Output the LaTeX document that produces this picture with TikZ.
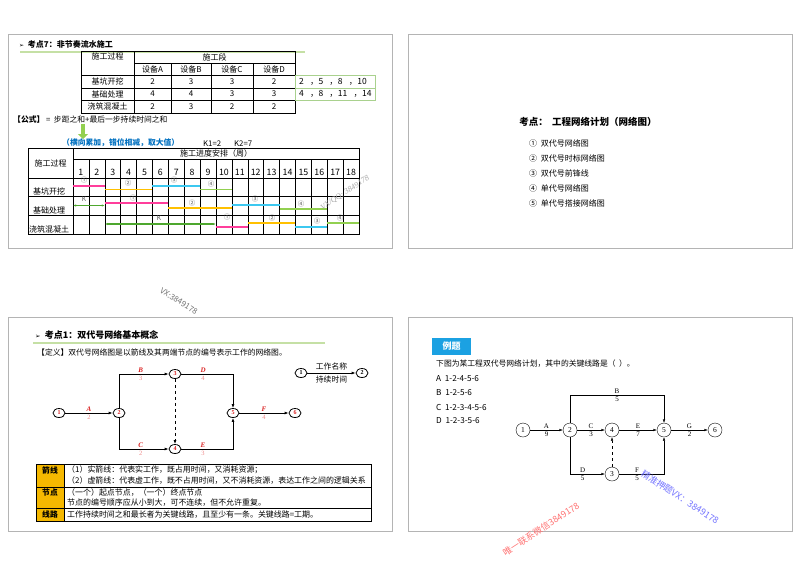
\documentclass[tikz,border=0pt]{standalone}
\usepackage{fontspec}
\setmainfont{Noto Sans CJK SC}
\newfontfamily\symfont{DejaVu Sans}
\newfontfamily\serfont{Liberation Serif}
\usetikzlibrary{arrows.meta,positioning,shapes.geometric}
\definecolor{framegray}{HTML}{B4B4B4}
\definecolor{titlegreen}{HTML}{C5E0A5}
\definecolor{boxgreen}{HTML}{A9D18E}
\definecolor{barpink}{HTML}{FF3D9B}
\definecolor{barorange}{HTML}{FFC000}
\definecolor{barcyan}{HTML}{3CC8F0}
\definecolor{bargreen}{HTML}{92D050}
\definecolor{kgreen}{HTML}{4EA72E}
\definecolor{linkblue}{HTML}{0070C0}
\definecolor{labelgold}{HTML}{F5B800}
\definecolor{examblue}{HTML}{1BA1E2}
\definecolor{netred}{HTML}{D92020}
\definecolor{durred}{HTML}{EE8A8A}
\newcommand\fs[1]{\fontsize{#1}{#1}\selectfont}
\newcommand\ganttbar[4]{\draw[line width=1.6pt, #4] (73+#2*15.89,#1) -- (73+#3*15.89,#1);}
\newcommand\gap{\enspace\ }
\begin{document}
\begin{tikzpicture}[x=1pt, y=-1pt, line cap=butt, >=Latex,
    slide/.style={draw=framegray, line width=1pt},
    cell/.style={font=\fs{8}, inner sep=1pt},
    lefttext/.style={font=\fs{7.8}, anchor=west, inner sep=0pt},
    tag/.style={font=\fs{6.5}, text=black!65, inner sep=0pt},
    rednode/.style={draw, thick, ellipse, minimum width=12pt, minimum height=9pt, inner sep=0pt, font=\serfont\bfseries\fs{6}, text=netred},
    exnode/.style={draw, thin, circle, minimum size=14pt, inner sep=0pt, font=\serfont\fs{7.5}},
    actname/.style={font=\serfont\bfseries\itshape\fs{7}, text=netred, inner sep=1.5pt},
    actdur/.style={font=\serfont\fs{6.5}, text=durred, inner sep=1.5pt},
    exlab/.style={font=\serfont\fs{7}, inner sep=1.5pt},
    watermark/.style={font=\fs{8}, inner sep=0pt}]
  \useasboundingbox (0,0) rectangle (800,566);

  % Four slide frames
  \draw[slide] (8,34) rectangle (392,248);
  \draw[slide] (408,34) rectangle (792,248);
  \draw[slide] (8,317) rectangle (392,531);
  \draw[slide] (408,317) rectangle (792,531);

  % ---------- Slide 1: non-rhythmic flow ----------
  \node[lefttext, font=\fs{8}\bfseries] (t1) at (19,44) {{\symfont\fs{6}➢}\ \ 考点7：非节奏流水施工};
  \draw[titlegreen, line width=2pt] (20,51.5) -- (305,51.5);

  % Table of durations
  \draw[line width=.6pt] (81,51) rectangle (295,113);
  \draw (134,51) -- (134,113);
  \draw (134,63) -- (295,63);
  \foreach \x in {171,211,253} \draw (\x,63) -- (\x,113);
  \foreach \y in {75,88,100} \draw (81,\y) -- (295,\y);
  \node[cell] (hproc) at (107.5,56.5) {施工过程};
  \node[cell] (hseg) at (214.5,57) {施工段};
  \foreach \x/\n in {152.5/A,191/B,232/C,274/D}
    \node[cell] (eq\n) at (\x,69) {设备\n};
  \foreach \y/\nm/\a/\b/\c/\d [count=\r] in {81.5/基坑开挖/2/3/3/2, 94/基础处理/4/4/3/3, 106.5/浇筑混凝土/2/3/2/2}{
    \node[cell] (row\r) at (107.5,\y) {\nm};
    \node[cell] at (152.5,\y) {\a};
    \node[cell] at (191,\y) {\b};
    \node[cell] at (232,\y) {\c};
    \node[cell] at (274,\y) {\d};
  }
  % Accumulated sums
  \draw[boxgreen, thin] (295,75) rectangle (375,88);
  \draw[boxgreen, thin] (295,88) rectangle (375,100);
  \node[lefttext, font=\fs{8.5}] (sum1) at (299,81.5) {2\gap，5\gap，8\gap，10};
  \node[lefttext, font=\fs{8.5}] (sum2) at (299,94) {4\gap，8\gap，11\gap，14};

  % Formula
  \node[lefttext] (formula) at (13,120) {\textbf{【公式】} =\ \ 步距之和+最后一步持续时间之和};
  \draw[-{Triangle[width=10pt,length=5pt]}, line width=4.5pt, bargreen] (83,124) -- (83,139);
  \node[lefttext, font=\fs{7.8}\bfseries, text=linkblue] (rule) at (62,143.5) {（\underline{横向累加，错位相减，取大值}）};
  \node[lefttext] (k1) at (203,143.5) {K1=2};
  \node[lefttext] (k2) at (234,143.5) {K2=7};

  % Gantt chart grid
  \draw[line width=.6pt] (28,148) rectangle (359,234);
  \draw (73,148) -- (73,234);
  \draw (73,159) -- (359,159);
  \foreach \i in {1,...,17} \draw (73+\i*15.89,159) -- (73+\i*15.89,234);
  \foreach \y in {178,196,215} \draw (28,\y) -- (359,\y);
  \node[cell, font=\fs{8}] (gsched) at (216,153.5) {施工进度安排（周）};
  \node[cell, font=\fs{8}] (gproc) at (50.5,163) {施工过程};
  \foreach \i in {1,...,18} \node[cell, font=\fs{8.8}] at (73+\i*15.89-7.95,172) {\i};
  \node[cell, font=\fs{8}] (g1) at (49,191) {基坑开挖};
  \node[cell, font=\fs{8}] (g2) at (49,210) {基础处理};
  \node[cell, font=\fs{8}] (g3) at (49,229) {浇筑混凝土};

  % Row 1 bars
  \ganttbar{186}{0}{2}{barpink}
  \ganttbar{189.5}{2}{5}{barorange}
  \ganttbar{186}{5}{8}{barcyan}
  \ganttbar{189.5}{8}{10}{bargreen}
  \node[tag] at (84,180.5) {①};
  \node[tag] at (128,183.5) {②};
  \node[tag] at (174,180.5) {③};
  \node[tag] at (211,184) {④};
  % Row 2 bars
  \draw[{Latex[length=3pt]}-{Latex[length=3pt]}, line width=1.6pt, kgreen] (73,205.5) -- (104.8,205.5);
  \ganttbar{203}{2}{6}{barpink}
  \ganttbar{208}{6}{10}{barorange}
  \ganttbar{205}{10}{13}{barcyan}
  \ganttbar{209}{13}{16}{bargreen}
  \node[tag] at (84,199) {K};
  \node[tag] at (133,198) {①};
  \node[tag] at (192,203) {②};
  \node[tag] at (255,199.5) {③};
  \node[tag] at (301,204) {④};
  % Row 3 bars
  \draw[{Latex[length=3pt]}-{Latex[length=3pt]}, line width=1.6pt, kgreen] (104.8,224) -- (216,224);
  \ganttbar{227}{9}{11}{barpink}
  \ganttbar{223}{11}{14}{barorange}
  \ganttbar{227}{14}{16}{barcyan}
  \ganttbar{223}{16}{18}{bargreen}
  \node[tag] at (159,218) {K};
  \node[tag] at (227,217.5) {①};
  \node[tag] at (272,218) {②};
  \node[tag] at (317,221) {③};
  \node[tag] at (340,218) {④};

  % ---------- Slide 2: outline ----------
  \node[font=\fs{9.5}\bfseries] (t2) at (588,122) {考点：\ \ 工程网络计划（网络图）};
  \foreach \txt [count=\k] in {双代号网络图,双代号时标网络图,双代号前锋线,单代号网络图,单代号搭接网络图}
    \node[lefttext, font=\fs{8}] (item\k) at (529,128+\k*15) {\ifcase\k\or ①\or ②\or ③\or ④\or ⑤\fi\ \ \txt};

  % ---------- Slide 3: basic concepts ----------
  \node[lefttext, font=\fs{9}\bfseries] (t3) at (35,335) {{\symfont\fs{6.5}➢}\ \ 考点1：双代号网络基本概念};
  \draw[titlegreen, line width=1.2pt] (33,343) -- (325,343);
  \node[lefttext] (defn) at (37,352) {【定义】双代号网络图是以箭线及其两端节点的编号表示工作的网络图。};

  % Network nodes
  \node[rednode] (nd1) at (59,413) {1};
  \node[rednode] (nd2) at (119,413) {2};
  \node[rednode] (nd3) at (175,374) {3};
  \node[rednode] (nd4) at (175,449) {4};
  \node[rednode] (nd5) at (233,413) {5};
  \node[rednode] (nd6) at (295,413) {6};
  \begin{scope}[thick, -{Latex[length=4pt,width=3pt]}]
    \draw (nd1) -- (nd2) node[midway, above, actname] {A} node[midway, below, actdur] {2};
    \draw (nd2) |- (nd3) node[pos=.72, above, actname] {B} node[pos=.72, below, actdur] {3};
    \draw (nd2) |- (nd4) node[pos=.72, above, actname] {C} node[pos=.72, below, actdur] {2};
    \draw (nd3) -| (nd5) node[pos=.21, above, actname] {D} node[pos=.21, below, actdur] {4};
    \draw (nd4) -| (nd5) node[pos=.21, above, actname] {E} node[pos=.21, below, actdur] {3};
    \draw (nd5) -- (nd6) node[midway, above, actname] {F} node[midway, below, actdur] {4};
    \draw[dashed] (nd3) -- (nd4);
  \end{scope}

  % Legend
  \node[rednode, text=black] (lg1) at (301,373) {1};
  \node[rednode, text=black] (lg2) at (362,373) {2};
  \draw[thick, -{Latex[length=4pt,width=3pt]}] (lg1) -- (lg2)
    node[midway, above, font=\fs{7.8}, inner sep=2pt] {工作名称}
    node[midway, below, font=\fs{7.8}, inner sep=3pt] {持续时间};

  % Notes table
  \fill[labelgold] (36,464) rectangle (64,521);
  \draw[line width=.7pt] (36,464) rectangle (371,521);
  \draw (64,464) -- (64,521);
  \draw (36,487) -- (371,487);
  \draw (36,508) -- (371,508);
  \node[font=\fs{7.8}\bfseries] (lbarrow) at (50,470) {箭线};
  \node[font=\fs{7.8}\bfseries] (lbnode) at (50,492.5) {节点};
  \node[font=\fs{7.8}\bfseries] (lbpath) at (50,514.5) {线路};
  \node[lefttext, font=\fs{7.95}] (nt1) at (67,470) {（1）实箭线：代表实工作，既占用时间，又消耗资源；};
  \node[lefttext, font=\fs{7.95}] (nt2) at (67,481) {（2）虚箭线：代表虚工作，既不占用时间，又不消耗资源，表达工作之间的逻辑关系};
  \node[lefttext, font=\fs{7.95}] (nt3) at (67,492.5) {（一个）起点节点，（一个）终点节点};
  \node[lefttext, font=\fs{7.95}] (nt4) at (67,502.5) {节点的编号顺序应从小到大，可不连续，但不允许重复。};
  \node[lefttext, font=\fs{7.95}] (nt5) at (67,514.5) {工作持续时间之和最长者为关键线路，且至少有一条。关键线路=工期。};

  % ---------- Slide 4: example ----------
  \node[fill=examblue, text=white, font=\fs{9}\bfseries, minimum width=39pt, minimum height=17pt, inner sep=0pt] (exam) at (451.5,346.5) {例题};
  \node[lefttext] (quest) at (436,364) {下图为某工程双代号网络计划，其中的关键线路是（\ \ ）。};
  \foreach \opt/\seq [count=\k] in {A/1-2-4-5-6, B/1-2-5-6, C/1-2-3-4-5-6, D/1-2-3-5-6}
    \node[lefttext, font=\fs{8.2}] (opt\k) at (436,365+\k*14) {\opt\ \ \seq};

  % Example network
  \node[exnode] (ex1) at (523,430) {1};
  \node[exnode] (ex2) at (570,430) {2};
  \node[exnode] (ex4) at (612,430) {4};
  \node[exnode] (ex5) at (664,430) {5};
  \node[exnode] (ex6) at (715,430) {6};
  \node[exnode] (ex3) at (612,474) {3};
  \coordinate (btop) at (617,395);
  \coordinate (fbot) at (637,474);
  \begin{scope}[thin, -{Latex[length=3.5pt,width=2.5pt]}]
    \draw (ex1) -- (ex2) node[midway, above, exlab] {A} node[midway, below, exlab] {9};
    \draw (ex2) -- (ex4) node[midway, above, exlab] {C} node[midway, below, exlab] {3};
    \draw (ex4) -- (ex5) node[midway, above, exlab] {E} node[midway, below, exlab] {7};
    \draw (ex5) -- (ex6) node[midway, above, exlab] {G} node[midway, below, exlab] {2};
    \draw (ex2) |- (btop) node[at end, above, exlab] {B} node[at end, below, exlab] {5} -| (ex5);
    \draw (ex2) |- (ex3) node[pos=.68, above, exlab] {D} node[pos=.68, below, exlab] {5};
    \draw (ex3) -- (fbot) node[at end, above, exlab] {F} node[at end, below, exlab] {5} -| (ex5);
    \draw[dashed] (ex3) -- (ex4);
  \end{scope}

  % Watermarks
  \node[watermark, text=black!55, rotate=-32] (wm1) at (179,301) {VX:3849178};
  \node[watermark, text=black!35, rotate=33, font=\serfont\itshape\fs{8}] (wm2) at (345,193) {VX/QQ: 3849178};
  \node[watermark, text=red!55, rotate=33, font=\fs{9}] (wm3) at (541,529) {唯一联系微信3849178};
  \node[watermark, text=blue!55, rotate=-33, font=\fs{9}] (wm4) at (680,497) {精准押题VX：3849178};
\end{tikzpicture}
\end{document}
